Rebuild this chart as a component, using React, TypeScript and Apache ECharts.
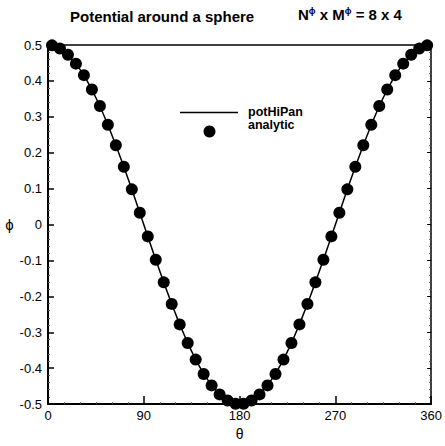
import React, { useEffect, useRef } from "react";
import * as echarts from "echarts";

const analyticTheta = [
  3.75, 11.25, 18.75, 26.25, 33.75, 41.25, 48.75, 56.25, 63.75, 71.25, 78.75, 86.25,
  93.75, 101.25, 108.75, 116.25, 123.75, 131.25, 138.75, 146.25, 153.75, 161.25, 168.75, 176.25,
  183.75, 191.25, 198.75, 206.25, 213.75, 221.25, 228.75, 236.25, 243.75, 251.25, 258.75, 266.25,
  273.75, 281.25, 288.75, 296.25, 303.75, 311.25, 318.75, 326.25, 333.75, 341.25, 348.75, 356.25,
];
const analyticPhi = [
  0.499, 0.49, 0.473, 0.448, 0.416, 0.376, 0.33, 0.278, 0.221, 0.161, 0.098, 0.033,
  -0.033, -0.098, -0.161, -0.221, -0.278, -0.33, -0.376, -0.416, -0.448, -0.473, -0.49, -0.499,
  -0.499, -0.49, -0.473, -0.448, -0.416, -0.376, -0.33, -0.278, -0.221, -0.161, -0.098, -0.033,
  0.033, 0.098, 0.161, 0.221, 0.278, 0.33, 0.376, 0.416, 0.448, 0.473, 0.49, 0.499,
];
const panelTheta = [
  0, 3.75, 11.25, 18.75, 26.25, 33.75, 41.25, 48.75, 56.25, 63.75, 71.25, 78.75, 86.25,
  93.75, 101.25, 108.75, 116.25, 123.75, 131.25, 138.75, 146.25, 153.75, 161.25, 168.75, 176.25,
  183.75, 191.25, 198.75, 206.25, 213.75, 221.25, 228.75, 236.25, 243.75, 251.25, 258.75, 266.25,
  273.75, 281.25, 288.75, 296.25, 303.75, 311.25, 318.75, 326.25, 333.75, 341.25, 348.75, 356.25, 360,
];
const panelPhi = [
  0.5, 0.499, 0.49, 0.473, 0.448, 0.416, 0.376, 0.33, 0.278, 0.221, 0.161, 0.098, 0.033,
  -0.033, -0.098, -0.161, -0.221, -0.278, -0.33, -0.376, -0.416, -0.448, -0.473, -0.49, -0.499,
  -0.499, -0.49, -0.473, -0.448, -0.416, -0.376, -0.33, -0.278, -0.221, -0.161, -0.098, -0.033,
  0.033, 0.098, 0.161, 0.221, 0.278, 0.33, 0.376, 0.416, 0.448, 0.473, 0.49, 0.499, 0.5,
];
const xTicks = ["0", "90", "180", "270", "360"];

const FONT = "'Liberation Sans', Arial, sans-serif";

export default function App() {
  const ref = useRef<HTMLDivElement>(null);
  useEffect(() => {
    if (!ref.current) return;
    const chart = echarts.init(ref.current, undefined, { renderer: "svg" });
    const black = "#000";
    chart.setOption({
      animation: false,
      backgroundColor: "#fff",
      textStyle: { fontFamily: FONT },
      grid: { left: 48, right: 12, top: 45, bottom: 35 },
      xAxis: [
        {
          type: "value",
          min: 0,
          max: 360,
          interval: 90,
          position: "bottom",
          axisLine: { onZero: false, lineStyle: { color: black, width: 2 } },
          axisTick: { inside: true, length: 8, lineStyle: { color: black, width: 1.5 } },
          minorTick: { show: true, splitNumber: 6, length: 2, lineStyle: { color: "#555" } },
          axisLabel: {
            color: black,
            fontSize: 13,
            fontFamily: FONT,
            margin: 5,
            formatter: (v: number) => xTicks[Math.round(v / 90)] ?? "",
          },
          splitLine: { show: false },
          name: "θ",
          nameLocation: "middle",
          nameGap: 22,
          nameTextStyle: { color: black, fontSize: 14, fontFamily: FONT },
        },
        {
          type: "value",
          min: 0,
          max: 360,
          interval: 90,
          position: "top",
          axisLine: { onZero: false, lineStyle: { color: black, width: 1.5 } },
          axisTick: { show: false },
          axisLabel: { show: false },
          splitLine: { show: false },
        },
      ],
      yAxis: [
        {
          type: "value",
          min: -0.5,
          max: 0.5,
          interval: 0.1,
          position: "left",
          axisLine: { onZero: false, lineStyle: { color: black, width: 2 } },
          axisTick: { inside: true, length: 6, lineStyle: { color: black, width: 1.5 } },
          minorTick: { show: true, splitNumber: 5, length: 2, lineStyle: { color: "#555" } },
          axisLabel: {
            color: black,
            fontSize: 13,
            fontFamily: FONT,
            margin: 6,
            formatter: (v: number) => (Math.abs(v) < 1e-9 ? "0" : String(Math.round(v * 10) / 10)),
          },
          splitLine: { show: false },
          name: "ϕ",
          nameLocation: "middle",
          nameRotate: 0,
          nameGap: 34,
          nameTextStyle: { color: black, fontSize: 15, fontFamily: FONT },
        },
        {
          type: "value",
          min: -0.5,
          max: 0.5,
          interval: 0.1,
          position: "right",
          axisLine: { onZero: false, lineStyle: { color: black, width: 1.5 } },
          axisTick: { inside: true, length: 4, lineStyle: { color: black } },
          minorTick: { show: true, splitNumber: 5, length: 2, lineStyle: { color: "#555" } },
          axisLabel: { show: false },
          splitLine: { show: false },
        },
      ],
      series: [
        {
          name: "potHiPan",
          type: "line",
          data: panelTheta.map((t, i) => [t, panelPhi[i]]),
          showSymbol: false,
          symbol: "none",
          lineStyle: { color: black, width: 1.5 },
          z: 2,
        },
        {
          name: "analytic",
          type: "scatter",
          data: analyticTheta.map((t, i) => [t, analyticPhi[i]]),
          symbol: "circle",
          symbolSize: 12,
          itemStyle: { color: black, opacity: 1 },
          z: 3,
        },
      ],
      graphic: [
        {
          type: "text",
          left: 70,
          top: 9,
          style: {
            text: "Potential around a sphere",
            font: `bold 15px ${FONT}`,
            fill: black,
          },
        },
        {
          type: "text",
          left: 298,
          top: 6,
          style: {
            text: "N{s|ϕ} x M{s|ϕ} = 8 x 4",
            font: `bold 15px ${FONT}`,
            fill: black,
            rich: {
              s: {
                fontSize: 9,
                fontWeight: "bold",
                fontFamily: FONT,
                fill: black,
                color: black,
                verticalAlign: "top",
                padding: [0, 0, 7, 0],
              },
            },
          },
        },
        {
          type: "line",
          shape: { x1: 180, y1: 112.5, x2: 238, y2: 112.5 },
          style: { stroke: black, lineWidth: 1.5 },
        },
        {
          type: "circle",
          shape: { cx: 209.5, cy: 131.5, r: 6 },
          style: { fill: black },
        },
        {
          type: "text",
          left: 248,
          top: 105,
          style: { text: "potHiPan", font: `bold 12.5px ${FONT}`, fill: black },
        },
        {
          type: "text",
          left: 248,
          top: 118,
          style: { text: "analytic", font: `bold 12.5px ${FONT}`, fill: black },
        },
      ],
    });
    return () => chart.dispose();
  }, []);
  return (
    <div
      ref={ref}
      style={{ position: "fixed", left: 0, top: 0, width: 445, height: 446 }}
    />
  );
}
